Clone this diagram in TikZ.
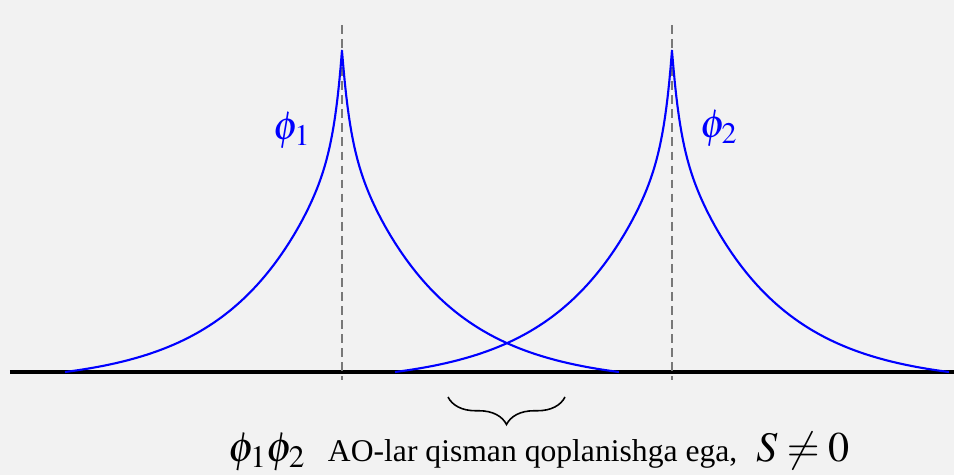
\documentclass[tikz,border=0pt]{standalone}
\usepackage{mathptmx}
\usepackage{fontspec}
\setmainfont{Liberation Serif}
\newfontfamily\captionserif{Liberation Serif}
\usetikzlibrary{positioning,decorations.pathreplacing}
\definecolor{AOBlue}{RGB}{0,0,255}
\definecolor{AOGray}{RGB}{120,120,120}
\definecolor{AOBack}{RGB}{242,242,242}

\begin{document}
\begin{tikzpicture}[
    declare function={aorb(\x)=6.674*(0.24*exp(max(-\x/0.152,-12))+0.76*exp(-\x/1.8)-0.035);},
    orbital/.style={draw=AOBlue, line width=1.2pt, line join=round},
    centreline/.style={draw=AOGray, line width=1.4pt, dash pattern=on 5pt off 3pt},
    axisline/.style={draw=black, line width=2.3pt},
    orblabel/.style={text=AOBlue, inner sep=0pt, font=\fontsize{23}{26}\selectfont},
    mathcap/.style={inner sep=0pt, font=\fontsize{24}{28}\selectfont},
    captext/.style={inner sep=0pt, font=\captionserif\fontsize{18}{21}\selectfont},
    overlapbrace/.style={draw=black, line width=0.9pt, decorate, decoration={brace, mirror, amplitude=0.55cm}}
  ]
    \useasboundingbox (0,0) rectangle (19.08,9.5);
    \fill[AOBack] (0,0) rectangle (19.08,9.5);
    % axis and nuclear positions
    \coordinate (axL) at (0.2,2.06);
    \coordinate (axR) at (19.08,2.06);
    \coordinate (c1top) at (6.84,9.0);
    \coordinate (c1bot) at (6.84,1.9);
    \coordinate (c2top) at (13.44,9.0);
    \coordinate (c2bot) at (13.44,1.9);
    \draw[axisline] (axL) -- (axR);
    \draw[centreline] (c1top) -- (c1bot);
    \draw[centreline] (c2top) -- (c2bot);
    % the two orbitals
    \draw[orbital] plot[domain=-5.54:5.54, samples=401] ({6.84+\x},{2.06+aorb(abs(\x))});
    \draw[orbital] plot[domain=-5.54:5.54, samples=401] ({13.44+\x},{2.06+aorb(abs(\x))});
    \node[orblabel] (phione) at (5.84,6.9) {$\phi_1$};
    \node[orblabel] (phitwo) at (14.38,6.94) {$\phi_2$};
    % overlap region
    \coordinate (brL) at (8.96,1.56);
    \coordinate (brR) at (11.30,1.56);
    \draw[overlapbrace] (brL) -- (brR);
    \node[mathcap, anchor=base west] (phiprod) at (4.56,0.27) {$\phi_1\phi_2$};
    \node[captext, base right=0.44cm of phiprod] (overlap) {AO-lar qisman qoplanishga ega,};
    \node[mathcap, base right=0.36cm of overlap] (sval) {$S\neq 0$};
  \end{tikzpicture}
\end{document}
